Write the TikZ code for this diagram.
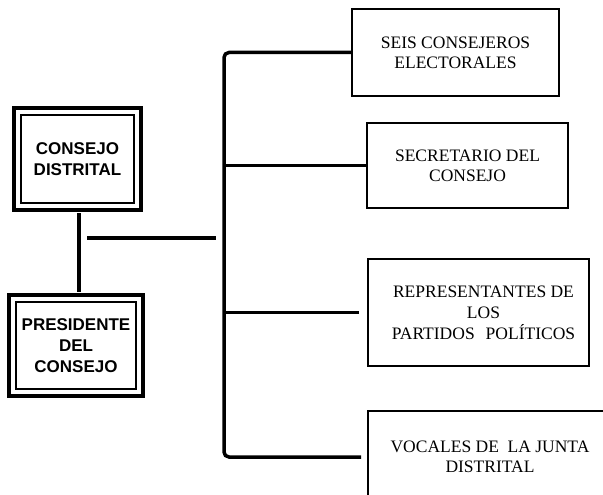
\documentclass[tikz,border=0pt]{standalone}
\usepackage{fontspec}
\setmainfont{Liberation Serif}
\newfontfamily\headfont{Liberation Sans}
\usepackage{tikz}
\usetikzlibrary{positioning}

\begin{document}
\begin{tikzpicture}[
  x=1pt,y=-1pt,
  every node/.style={scale=1.0},
  heads/.style={draw,line width=4pt,outer sep=0pt,align=center,font=\headfont\bfseries\fontsize{17}{21}\selectfont,inner sep=0pt},
  members/.style={draw,line width=2pt,outer sep=0pt,align=center,font=\fontsize{17.5}{20}\selectfont,inner sep=0pt},
  links/.style={line width=3.5pt},
]
\useasboundingbox (0,0) rectangle (603,495);
\clip (0,0) rectangle (603,495);

\node (consejo) [heads,minimum width=127,minimum height=102] at (77.5,159) {CONSEJO\\DISTRITAL};
\node (presidente) [heads,minimum width=134,minimum height=101] at (76,345.5) {PRESIDENTE\\DEL\\CONSEJO};
\foreach \n in {consejo,presidente}
  \draw[line width=1.8pt] ([shift={(7,7)}]\n.north west) rectangle ([shift={(-7,-7)}]\n.south east);

\node (seis) [members,minimum width=207,minimum height=87] at (455.5,52.5) {SEIS CONSEJEROS\\ELECTORALES};
\node (secretario) [members,minimum width=201,minimum height=85] at (467.5,165.5) {SECRETARIO DEL\\CONSEJO};
\node (partidos) [members,minimum width=221,minimum height=107,font=\fontsize{17.5}{21}\selectfont] at (478.5,312.5) {\hspace*{10pt}REPRESENTANTES DE\\\hspace*{10pt}LOS\\\hspace*{10pt}PARTIDOS\hspace{11pt}POLÍTICOS};
\node (vocales) [members,minimum width=244,minimum height=92] at (490,457) {VOCALES DE~ LA JUNTA\\DISTRITAL};

\coordinate (trunk) at (224,250);
\coordinate (feed) at (87,238);

\draw[line width=4pt] ([xshift=1.5pt,yshift=-3pt]consejo.south) -- ([xshift=3pt,yshift=3pt]presidente.north);
\draw[links] (feed) -- ([xshift=-8]feed -| trunk);
\draw[links,rounded corners=5pt] (seis.west) -| (trunk) |- ([xshift=-7]vocales.west);
\draw[links] (secretario.west) -- (secretario.west -| trunk);
\draw[links] ([xshift=-9]partidos.west) -- (partidos.west -| trunk);
\end{tikzpicture}
\end{document}
